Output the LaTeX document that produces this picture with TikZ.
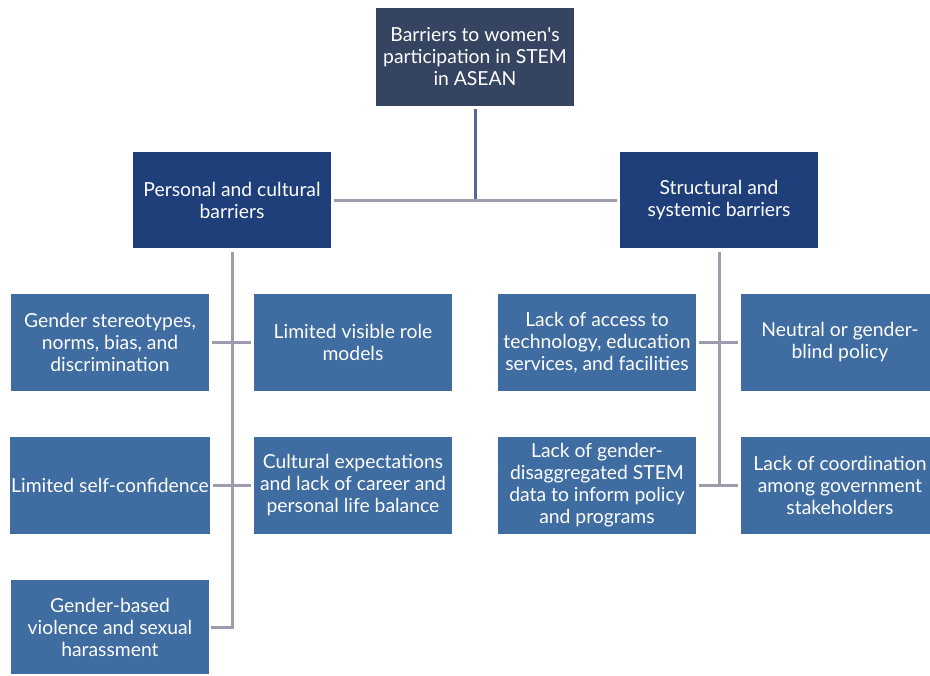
\documentclass[tikz,border=0pt]{standalone}
\usepackage{fontspec}
\setmainfont{Lato}
\usepackage{tikz}
\usetikzlibrary{positioning, calc}

\definecolor{topbox}{HTML}{344461}
\definecolor{midbox}{HTML}{1F3F7B}
\definecolor{leafbox}{HTML}{3F6CA1}
\definecolor{linkgray}{HTML}{9D9BAE}
\definecolor{linkdark}{HTML}{5B6590}

\begin{document}
\begin{tikzpicture}[x=0.75pt, y=-0.75pt,
		box/.style={rectangle, text=white, align=center, minimum width=148.5pt, minimum height=72.75pt, inner sep=1pt, font=\fontsize{14.5}{16.5}\selectfont},
		rootbox/.style={box, fill=topbox, minimum height=73.5pt},
		groupbox/.style={box, fill=midbox, minimum height=72pt},
		leaf/.style={box, fill=leafbox},
		link/.style={draw=linkgray, line width=2.25pt},
		rootlink/.style={draw=linkdark, line width=2.25pt}]
			\clip (0, 0) rectangle (930, 675);
			\fill[white] (0, 0) rectangle (930, 675);
			
			\node[rootbox] (root) at (475, 57) {Barriers to women\textquotesingle s\\participation in STEM\\in ASEAN};
			\node[groupbox] (pers) at (232, 200) {Personal and cultural\\barriers};
			\node[groupbox] (struct) at (719, 200) {Structural and\\systemic barriers};
			
			\node[leaf] (stereo)   at (110, 342.5) {Gender stereotypes,\\norms, bias, and\\discrimination};
			\node[leaf] (role)     at (353, 342.5) {Limited visible role\\models};
			\node[leaf] (confid)   at (110, 485.5) {Limited self-confidence};
			\node[leaf] (balance)  at (353, 485.5) {Cultural expectations\\and lack of career and\\personal life balance};
			\node[leaf, minimum height=70.5pt] (violence) at (110, 627) {Gender-based\\violence and sexual\\harassment};
			
			\node[leaf] (access)   at (597, 342.5) {Lack of access to\\technology, education\\services, and facilities};
			\node[leaf] (policy)   at (840, 342.5) {Neutral or gender-\\blind policy};
			\node[leaf] (data)     at (597, 485.5) {Lack of gender-\\disaggregated STEM\\data to inform policy\\and programs};
			\node[leaf] (coord)    at (840, 485.5) {Lack of coordination\\among government\\stakeholders};
			
			\draw[rootlink, shorten <=2pt] (root) -- (root.south |- pers.east);
			\draw[link, shorten <=2pt, shorten >=2pt] (pers.east) -- (struct.west);
			
			\draw[link, shorten <=3pt] (pers.south) |- ($(violence.east)+(2,0)$);
			\draw[link, shorten <=2pt, shorten >=2pt] (stereo.east) -- (role.west);
			\draw[link, shorten <=2pt, shorten >=2pt] (confid.east) -- (balance.west);
			
			\draw[link, shorten <=3pt] (struct.south) -- (struct.south |- data.east);
			\draw[link, shorten <=2pt, shorten >=2pt] (access.east) -- (policy.west);
			\draw[link, shorten <=2pt, shorten >=2pt] (data.east) -- (coord.west);
		\end{tikzpicture}
\end{document}
